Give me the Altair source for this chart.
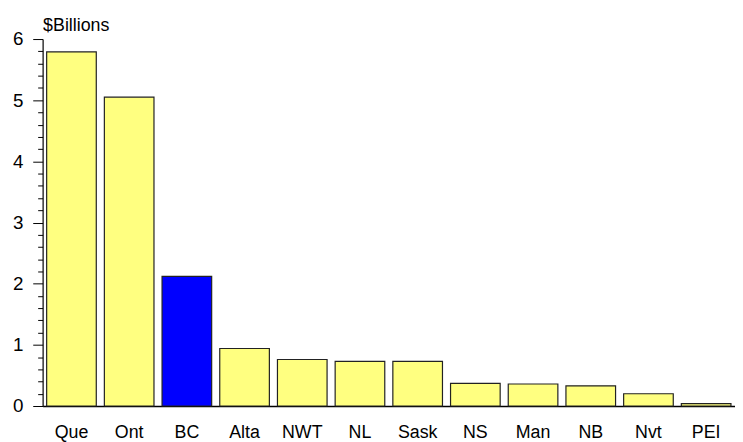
import altair as alt
import pandas as pd

provinces = ["Que", "Ont", "BC", "Alta", "NWT", "NL", "Sask", "NS", "Man", "NB", "Nvt", "PEI"]
values = [5.79, 5.05, 2.12, 0.94, 0.76, 0.73, 0.73, 0.37, 0.36, 0.33, 0.20, 0.04]
highlight = ["no", "no", "yes", "no", "no", "no", "no", "no", "no", "no", "no", "no"]
y_ticks = [round(i * 0.2, 1) for i in range(31)]

df = pd.DataFrame({"prov": provinces, "value": values, "hl": highlight})

FONT = "Liberation Sans"
IS_MAJOR = "abs(datum.value - round(datum.value)) < 0.001"

chart = alt.Chart(df).mark_bar(stroke="#222222", strokeWidth=1.2).encode(
    x=alt.X("prov:N", sort=provinces,
            scale=alt.Scale(paddingInner=0.14, paddingOuter=0.07),
            axis=alt.Axis(title=None, labelAngle=0, ticks=False, domainColor="black",
                          domainWidth=1.5, labelFont=FONT, labelFontSize=18,
                          labelColor="black", labelPadding=18)),
    y=alt.Y("value:Q", scale=alt.Scale(domain=[0, 6], nice=False),
            axis=alt.Axis(values=y_ticks, title="$Billions", titleAngle=0,
                          titleX=0, titleY=-9, titleAlign="left", titleBaseline="alphabetic",
                          titleFont=FONT, titleFontSize=18, titleFontWeight="normal",
                          titleColor="black",
                          labelExpr=IS_MAJOR + " ? format(datum.value, 'd') : ''",
                          tickSize={"condition": {"test": IS_MAJOR, "value": 10}, "value": 5},
                          tickColor="black", domainColor="black", domainWidth=1.2,
                          labelFont=FONT, labelFontSize=19, labelColor="black",
                          labelPadding=10, grid=False)),
    color=alt.Color("hl:N", scale=alt.Scale(domain=["no", "yes"], range=["#FFFF80", "#0000FF"]),
                    legend=None),
).properties(
    width=700, height=371,
    autosize=alt.AutoSizeParams(type="none"),
    padding={"left": 35, "top": 29, "right": 0, "bottom": 34},
).configure_view(stroke=None)

chart.save("out.html", embed_options={"renderer": "svg", "actions": False})
